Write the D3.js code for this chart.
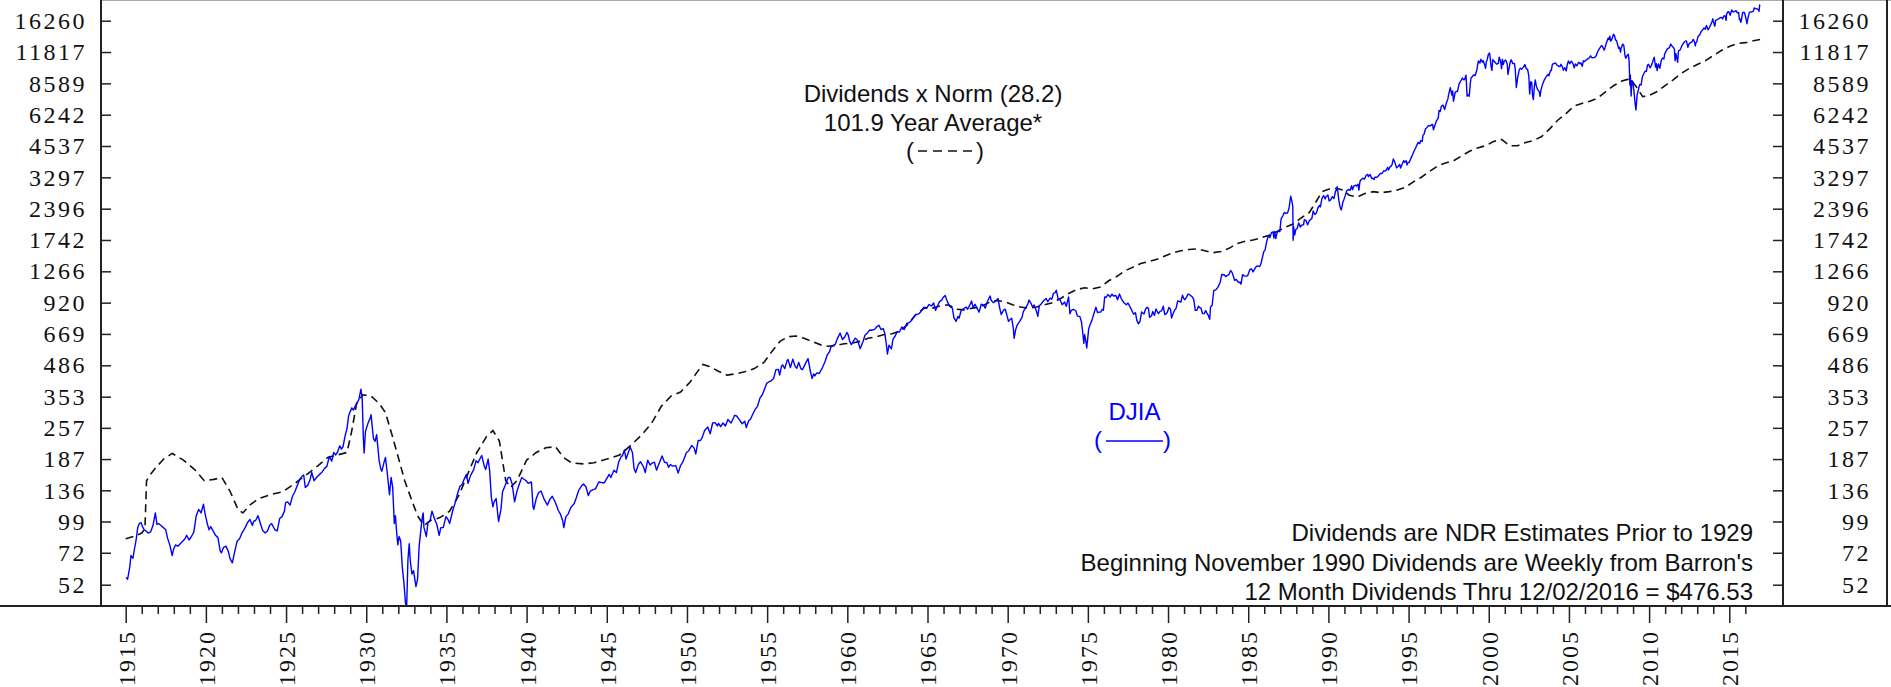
<!DOCTYPE html>
<html><head><meta charset="utf-8">
<script src="https://cdn.jsdelivr.net/npm/d3@7"></script>
<style>body{margin:0;background:#fff;} svg{display:block;}</style>
</head><body><svg id="c" width="1891" height="687"></svg>
<script>
const yTickValues = [52,72,99,136,187,257,353,486,669,920,1266,1742,2396,3297,4537,6242,8589,11817,16260];
const yearLabels = [1915,1920,1925,1930,1935,1940,1945,1950,1955,1960,1965,1970,1975,1980,1985,1990,1995,2000,2005,2010,2015];
const yearMinor = [1915,1916,1917,1918,1919,1920,1921,1922,1923,1924,1925,1926,1927,1928,1929,1930,1931,1932,1933,1934,1935,1936,1937,1938,1939,1940,1941,1942,1943,1944,1945,1946,1947,1948,1949,1950,1951,1952,1953,1954,1955,1956,1957,1958,1959,1960,1961,1962,1963,1964,1965,1966,1967,1968,1969,1970,1971,1972,1973,1974,1975,1976,1977,1978,1979,1980,1981,1982,1983,1984,1985,1986,1987,1988,1989,1990,1991,1992,1993,1994,1995,1996,1997,1998,1999,2000,2001,2002,2003,2004,2005,2006,2007,2008,2009,2010,2011,2012,2013,2014,2015,2016];

const djia = [
[1915.02,56],[1915.12,55],[1915.25,62],[1915.33,70],[1915.45,68],[1915.55,75],[1915.65,82],[1915.75,93],[1915.85,97],[1915.95,98],
[1916.05,94],[1916.15,91],[1916.25,90],[1916.4,88],[1916.55,89],[1916.7,95],[1916.85,108],[1916.95,96],
[1917.05,97],[1917.2,95],[1917.35,93],[1917.5,91],[1917.6,84],[1917.75,78],[1917.9,70],[1917.97,74],
[1918.1,78],[1918.25,77],[1918.4,79],[1918.55,81],[1918.7,83],[1918.8,86],[1918.95,82],
[1919.1,85],[1919.25,89],[1919.4,105],[1919.55,112],[1919.7,108],[1919.85,118],[1919.95,107],
[1920.1,96],[1920.2,91],[1920.3,94],[1920.45,90],[1920.6,86],[1920.75,84],[1920.9,73],[1920.97,72],
[1921.1,76],[1921.25,77],[1921.4,73],[1921.5,68],[1921.65,65],[1921.8,73],[1921.95,81],
[1922.1,83],[1922.25,88],[1922.45,93],[1922.6,98],[1922.75,101],[1922.9,95],[1922.97,99],
[1923.1,100],[1923.25,105],[1923.4,97],[1923.55,90],[1923.7,88],[1923.85,90],[1923.97,95],
[1924.1,97],[1924.3,91],[1924.45,90],[1924.6,102],[1924.75,104],[1924.9,110],[1924.97,120],
[1925.1,121],[1925.25,117],[1925.4,128],[1925.55,134],[1925.7,143],[1925.85,152],[1925.97,156],
[1926.1,159],[1926.2,140],[1926.35,143],[1926.5,152],[1926.6,163],[1926.75,150],[1926.9,155],[1926.97,157],
[1927.1,160],[1927.25,164],[1927.4,170],[1927.55,174],[1927.7,192],[1927.85,183],[1927.97,200],
[1928.1,195],[1928.2,200],[1928.35,214],[1928.45,207],[1928.55,212],[1928.7,240],[1928.8,255],[1928.9,290],[1928.97,300],
[1929.1,315],[1929.2,308],[1929.3,319],[1929.45,333],[1929.55,345],[1929.67,381],[1929.75,345],[1929.82,230],[1929.87,199],[1929.95,248],
[1930.1,268],[1930.25,285],[1930.3,294],[1930.45,230],[1930.55,224],[1930.65,240],[1930.8,185],[1930.9,170],[1930.97,165],
[1931.1,180],[1931.2,190],[1931.3,165],[1931.45,130],[1931.55,155],[1931.65,140],[1931.75,97],[1931.82,105],[1931.9,88],[1931.97,78],
[1932.05,85],[1932.15,81],[1932.25,62],[1932.35,53],[1932.45,43],[1932.52,41.5],[1932.6,67],[1932.68,79],[1932.75,66],[1932.85,58],[1932.95,60],
[1933.1,51],[1933.2,55],[1933.3,77],[1933.4,90],[1933.5,104],[1933.55,108],[1933.6,93],[1933.75,85],[1933.85,98],[1933.97,99],
[1934.1,110],[1934.25,102],[1934.4,96],[1934.55,86],[1934.65,93],[1934.8,93],[1934.97,104],
[1935.1,101],[1935.2,97],[1935.4,111],[1935.55,120],[1935.7,132],[1935.85,142],[1935.97,144],
[1936.1,152],[1936.25,160],[1936.35,146],[1936.5,158],[1936.7,168],[1936.85,184],[1936.97,180],
[1937.1,188],[1937.2,194],[1937.35,175],[1937.45,168],[1937.6,187],[1937.7,165],[1937.8,127],[1937.9,115],[1937.97,121],
[1938.1,125],[1938.25,99],[1938.4,112],[1938.5,134],[1938.65,142],[1938.85,155],[1938.97,155],
[1939.1,145],[1939.25,121],[1939.4,135],[1939.55,145],[1939.7,155],[1939.8,153],[1939.97,150],
[1940.1,146],[1940.3,148],[1940.4,115],[1940.45,112],[1940.6,125],[1940.75,133],[1940.9,135],[1940.97,131],
[1941.1,124],[1941.3,117],[1941.45,124],[1941.6,128],[1941.75,122],[1941.9,115],[1941.97,111],
[1942.1,107],[1942.25,100],[1942.32,93],[1942.45,104],[1942.6,107],[1942.75,114],[1942.97,119],
[1943.1,126],[1943.25,136],[1943.45,143],[1943.55,145],[1943.7,141],[1943.85,129],[1943.97,135],
[1944.15,137],[1944.3,138],[1944.5,148],[1944.7,147],[1944.85,147],[1944.97,152],
[1945.15,160],[1945.25,155],[1945.45,167],[1945.6,163],[1945.75,182],[1945.9,192],[1945.97,193],
[1946.1,205],[1946.2,187],[1946.4,205],[1946.45,212],[1946.6,200],[1946.7,170],[1946.8,163],[1946.97,177],
[1947.1,182],[1947.3,172],[1947.4,163],[1947.55,185],[1947.7,176],[1947.85,180],[1947.97,181],
[1948.1,167],[1948.25,178],[1948.45,193],[1948.6,181],[1948.75,180],[1948.85,172],[1948.97,177],
[1949.1,174],[1949.3,175],[1949.45,162],[1949.6,175],[1949.75,182],[1949.97,200],
[1950.1,203],[1950.3,215],[1950.45,209],[1950.55,197],[1950.7,226],[1950.85,226],[1950.97,235],
[1951.1,250],[1951.3,259],[1951.45,242],[1951.6,270],[1951.75,271],[1951.9,262],[1951.97,269],
[1952.1,260],[1952.25,270],[1952.4,262],[1952.55,280],[1952.75,270],[1952.9,284],[1952.97,292],
[1953.1,290],[1953.25,280],[1953.45,268],[1953.6,275],[1953.7,258],[1953.85,276],[1953.97,281],
[1954.1,295],[1954.25,310],[1954.4,320],[1954.55,348],[1954.7,360],[1954.85,384],[1954.97,404],
[1955.1,410],[1955.25,415],[1955.4,425],[1955.55,465],[1955.7,466],[1955.78,440],[1955.9,483],[1955.97,488],
[1956.1,470],[1956.25,511],[1956.3,516],[1956.45,475],[1956.6,517],[1956.75,480],[1956.85,472],[1956.97,500],
[1957.1,470],[1957.2,465],[1957.4,497],[1957.55,520],[1957.7,456],[1957.8,425],[1957.9,445],[1957.97,436],
[1958.1,450],[1958.25,447],[1958.45,475],[1958.6,503],[1958.75,540],[1958.9,560],[1958.97,584],
[1959.1,595],[1959.25,602],[1959.4,643],[1959.55,674],[1959.7,632],[1959.85,650],[1959.97,679],
[1960.05,665],[1960.15,620],[1960.25,600],[1960.4,625],[1960.5,641],[1960.65,625],[1960.8,575],[1960.97,616],
[1961.1,660],[1961.25,676],[1961.4,696],[1961.55,695],[1961.7,701],[1961.85,721],[1961.97,731],
[1962.1,700],[1962.25,706],[1962.35,666],[1962.45,590],[1962.5,545],[1962.6,597],[1962.75,575],[1962.85,635],[1962.97,652],
[1963.1,683],[1963.25,682],[1963.4,718],[1963.55,700],[1963.7,744],[1963.85,750],[1963.97,763],
[1964.1,785],[1964.25,813],[1964.45,820],[1964.6,841],[1964.75,875],[1964.85,875],[1964.97,874],
[1965.1,903],[1965.25,889],[1965.38,918],[1965.5,850],[1965.6,882],[1965.75,930],[1965.9,946],[1965.97,969],
[1966.1,990],[1966.25,925],[1966.4,884],[1966.55,870],[1966.65,788],[1966.78,760],[1966.9,800],[1966.97,785],
[1967.1,850],[1967.25,865],[1967.4,880],[1967.5,860],[1967.65,901],[1967.75,935],[1967.85,875],[1967.97,905],
[1968.1,865],[1968.22,835],[1968.35,905],[1968.5,897],[1968.6,870],[1968.75,935],[1968.9,985],[1968.97,943],
[1969.1,920],[1969.25,935],[1969.4,960],[1969.5,873],[1969.6,815],[1969.75,855],[1969.85,860],[1969.97,800],
[1970.05,760],[1970.15,775],[1970.25,785],[1970.35,710],[1970.4,640],[1970.5,700],[1970.6,734],[1970.75,760],[1970.9,794],[1970.97,838],
[1971.1,870],[1971.25,904],[1971.33,945],[1971.45,915],[1971.55,880],[1971.65,898],[1971.8,840],[1971.88,800],[1971.97,890],
[1972.1,910],[1972.25,940],[1972.4,960],[1972.5,929],[1972.65,963],[1972.75,953],[1972.85,1010],[1972.97,1020],
[1973.03,1045],[1973.15,955],[1973.25,951],[1973.4,901],[1973.55,926],[1973.65,887],[1973.8,975],[1973.88,822],[1973.97,851],
[1974.1,860],[1974.25,847],[1974.35,802],[1974.5,800],[1974.6,757],[1974.68,679],[1974.75,608],[1974.8,665],[1974.88,619],[1974.93,580],[1974.97,616],
[1975.05,703],[1975.15,739],[1975.25,768],[1975.4,832],[1975.5,879],[1975.6,832],[1975.7,835],[1975.8,836],[1975.9,860],[1975.97,852],
[1976.05,975],[1976.15,972],[1976.25,999],[1976.4,975],[1976.5,1003],[1976.6,985],[1976.75,990],[1976.85,947],[1976.97,1005],
[1977.1,954],[1977.25,919],[1977.4,900],[1977.5,916],[1977.6,890],[1977.75,847],[1977.85,818],[1977.97,831],
[1978.05,770],[1978.15,742],[1978.25,760],[1978.35,837],[1978.5,819],[1978.6,862],[1978.7,877],[1978.78,866],[1978.85,792],[1978.97,805],
[1979.05,840],[1979.15,808],[1979.25,862],[1979.4,822],[1979.5,842],[1979.6,846],[1979.7,888],[1979.8,815],[1979.9,822],[1979.97,839],
[1980.05,876],[1980.15,863],[1980.22,786],[1980.3,817],[1980.4,850],[1980.5,868],[1980.6,935],[1980.7,932],[1980.8,924],[1980.9,993],[1980.97,964],
[1981.05,948],[1981.15,974],[1981.25,1004],[1981.35,998],[1981.5,977],[1981.6,952],[1981.7,850],[1981.8,852],[1981.9,888],[1981.97,875],
[1982.05,871],[1982.15,824],[1982.25,823],[1982.35,848],[1982.45,819],[1982.5,812],[1982.6,777],[1982.65,880],[1982.75,896],[1982.85,1039],[1982.97,1047],
[1983.1,1075],[1983.25,1130],[1983.35,1226],[1983.5,1222],[1983.6,1199],[1983.7,1216],[1983.8,1225],[1983.9,1276],[1983.97,1259],
[1984.05,1220],[1984.15,1155],[1984.25,1165],[1984.4,1130],[1984.5,1132],[1984.55,1110],[1984.65,1224],[1984.75,1207],[1984.9,1206],[1984.97,1212],
[1985.1,1287],[1985.2,1299],[1985.3,1258],[1985.45,1315],[1985.55,1336],[1985.65,1334],[1985.72,1329],[1985.8,1374],[1985.9,1472],[1985.97,1547],
[1986.05,1571],[1986.15,1709],[1986.25,1819],[1986.35,1784],[1986.45,1877],[1986.55,1893],[1986.6,1775],[1986.65,1898],[1986.72,1768],[1986.8,1878],[1986.9,1914],[1986.97,1896],
[1987.05,2158],[1987.15,2224],[1987.25,2305],[1987.35,2286],[1987.45,2291],[1987.55,2419],[1987.6,2572],[1987.65,2722],[1987.72,2596],[1987.78,2450],[1987.8,1738],[1987.83,1994],[1987.9,1834],[1987.97,1939],
[1988.05,1958],[1988.15,2071],[1988.25,1988],[1988.35,2032],[1988.45,2031],[1988.5,2142],[1988.6,2129],[1988.7,2032],[1988.8,2113],[1988.9,2149],[1988.97,2169],
[1989.05,2342],[1989.15,2258],[1989.25,2293],[1989.35,2419],[1989.45,2480],[1989.5,2440],[1989.6,2661],[1989.7,2737],[1989.75,2693],[1989.8,2645],[1989.85,2706],[1989.97,2753],
[1990.05,2591],[1990.15,2627],[1990.25,2707],[1990.35,2656],[1990.45,2877],[1990.5,2881],[1990.55,2999],[1990.65,2614],[1990.72,2452],[1990.8,2365],[1990.85,2442],[1990.9,2560],[1990.97,2634],
[1991.05,2736],[1991.15,2882],[1991.25,2914],[1991.35,2888],[1991.45,3028],[1991.5,2907],[1991.6,3025],[1991.7,3044],[1991.75,3017],[1991.85,3070],[1991.9,2895],[1991.97,3169],
[1992.05,3224],[1992.15,3268],[1992.25,3236],[1992.35,3359],[1992.45,3397],[1992.5,3319],[1992.6,3394],[1992.7,3257],[1992.75,3272],[1992.85,3226],[1992.9,3305],[1992.97,3301],
[1993.05,3310],[1993.15,3370],[1993.25,3435],[1993.35,3428],[1993.45,3527],[1993.5,3516],[1993.6,3540],[1993.7,3651],[1993.75,3555],[1993.85,3681],[1993.9,3684],[1993.97,3754],
[1994.05,3978],[1994.15,3832],[1994.25,3636],[1994.35,3681],[1994.45,3758],[1994.5,3625],[1994.6,3765],[1994.7,3913],[1994.75,3843],[1994.85,3908],[1994.9,3739],[1994.97,3834],
[1995.05,3843],[1995.15,4011],[1995.25,4158],[1995.35,4321],[1995.45,4465],[1995.5,4556],[1995.6,4708],[1995.7,4647],[1995.75,4789],[1995.85,4755],[1995.9,5075],[1995.97,5117],
[1996.05,5395],[1996.15,5485],[1996.25,5587],[1996.35,5569],[1996.45,5643],[1996.5,5654],[1996.55,5350],[1996.65,5616],[1996.75,5882],[1996.85,6029],[1996.9,6522],[1996.97,6448],
[1997.05,6813],[1997.15,6877],[1997.25,6584],[1997.35,7009],[1997.45,7331],[1997.5,7673],[1997.6,8223],[1997.7,7622],[1997.75,7945],[1997.8,7161],[1997.85,7442],[1997.9,7823],[1997.97,7908],
[1998.05,7907],[1998.15,8546],[1998.25,8800],[1998.35,9063],[1998.45,8900],[1998.5,8952],[1998.58,9338],[1998.65,7539],[1998.72,7632],[1998.78,7539],[1998.85,8592],[1998.9,9117],[1998.97,9181],
[1999.05,9359],[1999.15,9307],[1999.25,9786],[1999.35,10789],[1999.45,10560],[1999.5,10971],[1999.6,10655],[1999.65,10829],[1999.75,10337],[1999.8,10000],[1999.85,10730],[1999.9,10878],[1999.97,11497],
[2000.05,11700],[2000.1,10941],[2000.15,10128],[2000.2,9796],[2000.25,10922],[2000.35,10734],[2000.45,10522],[2000.5,10448],[2000.6,10522],[2000.65,11215],[2000.75,10651],[2000.8,9975],[2000.85,10971],[2000.9,10414],[2000.97,10788],
[2001.05,10887],[2001.15,10495],[2001.2,9400],[2001.25,9879],[2001.35,10735],[2001.4,10912],[2001.5,10502],[2001.6,10523],[2001.65,9950],[2001.72,8236],[2001.8,9075],[2001.9,9852],[2001.97,10022],
[2002.05,9920],[2002.15,10106],[2002.25,10404],[2002.35,9946],[2002.42,9925],[2002.5,9243],[2002.55,7702],[2002.62,8737],[2002.68,8663],[2002.73,7592],[2002.78,7286],[2002.85,8397],[2002.9,8896],[2002.97,8342],
[2003.05,8054],[2003.15,7891],[2003.2,7524],[2003.25,7992],[2003.35,8480],[2003.45,8850],[2003.5,8985],[2003.6,9233],[2003.7,9415],[2003.75,9275],[2003.85,9801],[2003.9,9782],[2003.97,10454],
[2004.05,10488],[2004.15,10584],[2004.25,10358],[2004.35,10226],[2004.45,10188],[2004.5,10435],[2004.6,10140],[2004.65,9815],[2004.75,10080],[2004.83,9750],[2004.9,10428],[2004.97,10783],
[2005.05,10490],[2005.15,10766],[2005.25,10504],[2005.33,10071],[2005.4,10467],[2005.5,10275],[2005.6,10641],[2005.7,10482],[2005.75,10569],[2005.83,10216],[2005.9,10806],[2005.97,10718],
[2006.05,10865],[2006.15,10993],[2006.25,11109],[2006.35,11367],[2006.42,11168],[2006.5,11150],[2006.6,11186],[2006.7,11381],[2006.75,11679],[2006.85,12081],[2006.9,12221],[2006.97,12463],
[2007.05,12622],[2007.15,12268],[2007.2,12050],[2007.25,12354],[2007.35,13063],[2007.45,13628],[2007.5,13409],[2007.55,13900],[2007.6,13212],[2007.65,13358],[2007.75,13896],[2007.78,14165],[2007.85,13930],[2007.9,13372],[2007.97,13265],
[2008.05,12650],[2008.1,12266],[2008.15,12400],[2008.22,11800],[2008.25,12263],[2008.35,12820],[2008.42,12638],[2008.5,11350],[2008.55,11100],[2008.62,11378],[2008.7,11543],[2008.75,10851],[2008.8,8451],[2008.83,9325],[2008.88,7552],[2008.92,8829],[2008.97,8776],
[2009.05,8000],[2009.12,7063],[2009.18,6547],[2009.25,7609],[2009.35,8168],[2009.42,8500],[2009.5,8447],[2009.58,9171],[2009.67,9496],[2009.75,9712],[2009.83,9713],[2009.9,10345],[2009.97,10428],
[2010.05,10067],[2010.15,10325],[2010.25,10857],[2010.32,11205],[2010.4,10137],[2010.45,10500],[2010.5,9774],[2010.58,10466],[2010.67,10015],[2010.75,10788],[2010.83,11118],[2010.92,11006],[2010.97,11578],
[2011.05,11892],[2011.15,12226],[2011.25,12320],[2011.35,12811],[2011.42,12570],[2011.5,12414],[2011.58,12143],[2011.62,10810],[2011.67,11614],[2011.75,10913],[2011.78,10655],[2011.83,11955],[2011.92,12046],[2011.97,12218],
[2012.05,12633],[2012.15,12952],[2012.25,13212],[2012.33,13214],[2012.42,12393],[2012.5,12880],[2012.58,13009],[2012.67,13091],[2012.75,13437],[2012.83,13096],[2012.88,12588],[2012.92,13026],[2012.97,13104],
[2013.05,13861],[2013.15,14054],[2013.25,14579],[2013.35,14840],[2013.42,15115],[2013.5,14910],[2013.58,15500],[2013.67,14810],[2013.75,15130],[2013.83,15546],[2013.92,16086],[2013.97,16577],
[2014.05,15699],[2014.1,15373],[2014.15,16322],[2014.25,16458],[2014.33,16581],[2014.42,16717],[2014.5,16827],[2014.58,16563],[2014.67,17098],[2014.75,17043],[2014.8,16315],[2014.83,17391],[2014.92,17828],[2014.97,17823],
[2015.05,17165],[2015.15,18133],[2015.25,17776],[2015.33,17841],[2015.42,18011],[2015.5,17620],[2015.58,17690],[2015.63,16459],[2015.67,16528],[2015.72,16001],[2015.75,16285],[2015.83,17664],[2015.92,17720],[2015.97,17425],
[2016.05,16466],[2016.1,15766],[2016.15,16517],[2016.25,17685],[2016.33,17774],[2016.42,17787],[2016.5,17930],[2016.55,18533],[2016.58,18432],[2016.67,18400],[2016.75,18308],[2016.83,18142],[2016.85,17888],[2016.9,19124],[2016.92,19170]
];

const dividendsNorm = [
[1915.0,83],[1915.5,85],[1916.0,88],[1916.2,92],[1916.3,150],[1916.6,162],[1916.9,172],[1917.4,188],[1917.9,198],[1918.6,185],[1919.3,168],[1919.9,150],
[1920.5,152],[1921.0,155],[1921.5,135],[1922.0,112],[1922.3,108],[1922.8,118],[1923.3,125],[1924.0,130],[1924.8,134],[1925.5,145],[1926.3,160],[1927.0,175],[1927.6,190],[1928.2,195],[1928.8,200],
[1929.1,250],[1929.4,330],[1929.8,360],[1930.3,355],[1930.8,330],[1931.2,300],[1931.6,240],[1932.0,190],[1932.4,150],[1932.8,125],[1933.2,105],[1933.6,95],[1934.0,100],[1934.6,103],
[1935.2,110],[1935.8,130],[1936.4,165],[1936.9,200],[1937.5,235],[1937.9,250],[1938.3,225],[1938.7,150],[1939.0,140],[1939.4,150],[1940.0,185],[1940.6,200],[1941.2,210],[1941.8,212],
[1942.3,190],[1942.8,180],[1943.5,178],[1944.2,180],[1945.0,187],[1945.8,195],[1946.5,215],[1947.2,240],[1947.8,270],[1948.4,320],[1949.0,355],[1949.6,370],
[1950.2,410],[1950.6,450],[1951.0,490],[1951.4,480],[1951.9,460],[1952.5,440],[1953.0,445],[1953.6,455],[1954.2,470],[1954.8,500],[1955.3,560],[1955.8,620],[1956.3,650],[1956.8,655],
[1957.3,640],[1957.8,620],[1958.3,600],[1958.8,590],[1959.3,595],[1959.8,605],[1960.3,610],[1960.8,620],[1961.3,640],[1961.8,650],[1962.3,665],[1962.8,670],[1963.3,690],[1963.8,740],
[1964.3,820],[1964.8,870],[1965.3,870],[1965.8,890],[1966.3,900],[1966.8,860],[1967.3,855],[1967.8,870],[1968.3,880],[1968.8,920],[1969.3,940],[1969.8,930],
[1970.3,900],[1970.8,880],[1971.3,870],[1971.8,880],[1972.3,900],[1972.8,920],[1973.3,960],[1973.8,1010],[1974.3,1050],[1974.8,1070],[1975.3,1060],[1975.8,1080],
[1976.3,1150],[1976.8,1200],[1977.3,1270],[1977.8,1320],[1978.3,1370],[1978.8,1400],[1979.3,1430],[1979.8,1480],[1980.3,1530],[1980.8,1560],[1981.3,1580],[1981.8,1590],
[1982.3,1560],[1982.8,1530],[1983.3,1550],[1983.8,1600],[1984.3,1680],[1984.8,1720],[1985.3,1740],[1985.8,1780],[1986.3,1830],[1986.8,1900],[1987.3,1980],[1987.8,2050],
[1988.3,2180],[1988.8,2300],[1989.2,2550],[1989.6,2850],[1990.0,2920],[1990.5,2950],[1990.9,2900],[1991.3,2750],[1991.8,2700],[1992.3,2800],[1992.8,2850],[1993.3,2820],[1993.8,2850],
[1994.3,2900],[1994.8,2980],[1995.3,3150],[1995.8,3300],[1996.3,3500],[1996.8,3700],[1997.3,3820],[1997.8,3900],[1998.3,4100],[1998.8,4300],[1999.3,4450],[1999.8,4550],
[2000.3,4750],[2000.8,4850],[2001.3,4550],[2001.8,4550],[2002.3,4700],[2002.8,4800],[2003.3,5000],[2003.8,5400],[2004.3,5900],[2004.8,6300],[2005.3,6800],[2005.8,7000],
[2006.3,7150],[2006.8,7400],[2007.3,7900],[2007.8,8400],[2008.3,8800],[2008.8,9000],[2009.2,8300],[2009.6,7500],[2010.0,7600],[2010.5,7900],[2011.0,8400],[2011.5,8900],
[2012.0,9500],[2012.5,10000],[2013.0,10400],[2013.5,10800],[2014.0,11400],[2014.5,12000],[2015.0,12500],[2015.5,12900],[2016.0,13000],[2016.5,13250],[2016.92,13438]
];

const noteLines = ["Dividends are NDR Estimates Prior to 1929","Beginning November 1990 Dividends are Weekly from Barron's","12 Month Dividends Thru 12/02/2016 = $476.53"];
const titleLines = ["Dividends x Norm (28.2)","101.9 Year Average*"];

const svg = d3.select("#c");
const L = 101, R = 1783, T = 0, B = 606;
const x = d3.scaleLinear().domain([1915, 2015]).range([125.7, 1729.3]);
const y = d3.scaleLog().domain([52, 16260]).range([584.7, 20.7]);

const serif = "'Liberation Serif','Times New Roman',serif";
const sans = "'Liberation Sans',Arial,sans-serif";

// frame
svg.append("line").attr("x1",L).attr("x2",1891).attr("y1",0.5).attr("y2",0.5).attr("stroke","#aaa").attr("stroke-width",1);
svg.append("line").attr("x1",0).attr("x2",1891).attr("y1",B).attr("y2",B).attr("stroke","#222").attr("stroke-width",2);
svg.append("line").attr("x1",L).attr("x2",L).attr("y1",0).attr("y2",B).attr("stroke","#222").attr("stroke-width",2);
svg.append("line").attr("x1",R).attr("x2",R).attr("y1",0).attr("y2",B).attr("stroke","#222").attr("stroke-width",2);
svg.append("line").attr("x1",1887).attr("x2",1887).attr("y1",0).attr("y2",B).attr("stroke","#222").attr("stroke-width",2);

// y axes
const yl = svg.append("g").attr("transform",`translate(${L},0)`)
  .call(d3.axisLeft(y).tickValues(yTickValues).tickFormat(d3.format("d")).tickSizeInner(-10).tickSizeOuter(0).tickPadding(14));
yl.select(".domain").remove();
yl.selectAll("line").attr("stroke","#222").attr("stroke-width",1.5);
yl.selectAll("text").attr("font-family",serif).attr("font-size",24).attr("letter-spacing","2.5px").attr("fill","#111");

const yr = svg.append("g").attr("transform",`translate(${R},0)`)
  .call(d3.axisRight(y).tickValues(yTickValues).tickFormat(d3.format("d")).tickSizeInner(-10).tickSizeOuter(0).tickPadding(0));
yr.select(".domain").remove();
yr.selectAll("line").attr("stroke","#222").attr("stroke-width",1.5);
yr.selectAll("text").attr("x",88).attr("text-anchor","end").attr("font-family",serif).attr("font-size",24).attr("letter-spacing","2.5px").attr("fill","#111");

// x axis
const xa = svg.append("g").attr("transform",`translate(0,${B})`)
  .call(d3.axisBottom(x).tickValues(yearMinor).tickFormat(d => yearLabels.includes(d) ? String(d) : "").tickSizeOuter(0));
xa.select(".domain").remove();
xa.selectAll(".tick line").attr("stroke","#222").attr("stroke-width",1.5).attr("y2", d => yearLabels.includes(d) ? 17 : 8);
xa.selectAll(".tick text").attr("font-family",serif).attr("font-size",24).attr("letter-spacing","2px").attr("fill","#111")
  .attr("text-anchor","end").attr("transform","rotate(-90)").attr("x",-24).attr("y",0).attr("dy","0.35em");

// clip
svg.append("clipPath").attr("id","pc").append("rect").attr("x",L+1).attr("y",1).attr("width",R-L-2).attr("height",B-2);
const plot = svg.append("g").attr("clip-path","url(#pc)");
const line = d3.line().x(d => x(d[0])).y(d => y(d[1]));

plot.append("path").datum(dividendsNorm).attr("d",line).attr("fill","none").attr("stroke","#111").attr("stroke-width",1.6).attr("stroke-dasharray","8,5");
plot.append("path").datum(djia).attr("d",line).attr("fill","none").attr("stroke","#0000ff").attr("stroke-width",1.4).attr("stroke-linejoin","round");

// title annotation
const tg = svg.append("g").attr("font-family",sans).attr("font-size",24).attr("fill","#111").attr("text-anchor","middle");
tg.append("text").attr("x",933).attr("y",102).text(titleLines[0]);
tg.append("text").attr("x",933).attr("y",131).text(titleLines[1]);
tg.append("text").attr("x",910).attr("y",159).text("(");
tg.append("text").attr("x",980).attr("y",159).text(")");
svg.append("line").attr("x1",918).attr("x2",972).attr("y1",151).attr("y2",151).attr("stroke","#111").attr("stroke-width",1.5).attr("stroke-dasharray","9,6");

// DJIA legend
const dg = svg.append("g").attr("font-family",sans).attr("font-size",24).attr("fill","#0000ff").attr("text-anchor","middle");
dg.append("text").attr("x",1134.5).attr("y",420).text("DJIA");
dg.append("text").attr("x",1098).attr("y",448).text("(");
dg.append("text").attr("x",1167).attr("y",448).text(")");
svg.append("line").attr("x1",1106).attr("x2",1163).attr("y1",441).attr("y2",441).attr("stroke","#0000ff").attr("stroke-width",1.5);

// notes
const ng = svg.append("g").attr("font-family",sans).attr("font-size",24).attr("fill","#111").attr("text-anchor","end");
noteLines.forEach((t,i) => ng.append("text").attr("x",1753).attr("y",541 + i*29.5).text(t));
</script></body></html>
